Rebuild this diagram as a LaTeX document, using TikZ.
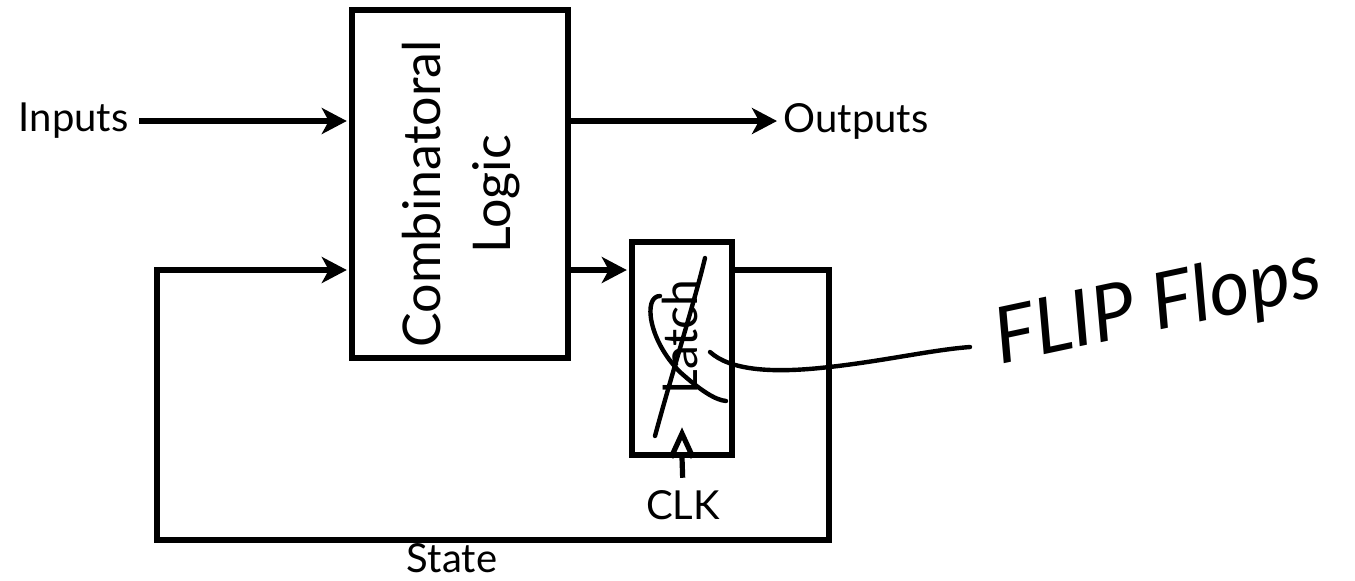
\documentclass[tikz,border=0pt]{standalone}
\usepackage{fontspec}
\setmainfont{Lato}
\usetikzlibrary{arrows.meta,positioning}
\begin{document}
\begin{tikzpicture}[x=0.5pt,y=-0.5pt,line width=2.6pt,
  block/.style={draw,line width=2.6pt,inner sep=0pt},
  arr/.style={-{Stealth[length=12.5pt,width=13pt,inset=3.5pt]}},
  lbl/.style={font=\fontsize{20}{24}\selectfont,inner sep=0pt},
  ink/.style={line width=2.2pt,line cap=round}]
  \useasboundingbox (0,0) rectangle (1355,580);
  \node[block,minimum width=108pt,minimum height=174pt] (comb) at (460,184) {};
  \node[rotate=90,align=center,font=\fontsize{26}{35}\selectfont] (combtxt) at (461,194) {Combinatoral\\Logic};
  \node[block,minimum width=50pt,minimum height=106.5pt] (latch) at (682,348.5) {};
  \node[rotate=90,inner sep=0pt,font=\fontsize{24}{24}\selectfont] (latchtxt) at (680,337) {Latch};
  \node[lbl,anchor=east] (inputs) at (131,121) {Inputs};
  \node[lbl,anchor=west] (outputs) at (781,121) {Outputs};
  \node[lbl] (clk) at (683,505) {CLK};
  \node[lbl,anchor=base] (state) at (452,572) {State};
  \node[rotate=12,inner sep=0pt,font=\fontsize{39}{39}\selectfont\itshape] (flip) at (1158,308) {FLIP Flops};
  \coordinate (mid) at (0,270);
  \coordinate (ne) at (829,270);
  \coordinate (se) at (829,540);
  \coordinate (sw) at (157,540);
  \coordinate (nw) at (157,270);
  \draw[arr,shorten <=4pt,shorten >=1.3pt] (inputs.east) -- (comb.west |- inputs.east);
  \draw[arr,shorten >=2pt] (comb.east |- outputs.west) -- (outputs.west);
  \draw[arr,shorten >=1.3pt] (comb.east |- mid) -- (latch.west |- mid);
  \draw[arr,shorten >=1.3pt] (latch.east |- mid) -- (ne) -- (se) -- (sw) -- (nw) -- (comb.west |- mid);
  \draw[shorten <=5pt] (clk.north) -- (latch.south);
  \draw (latch.south) ++(-11,0) -- ++(11,-24) -- ++(11,24);
  \draw[ink] (655,436) .. controls (670,380) and (695,300) .. (705,258);
  \draw[ink] (660,296) .. controls (643,296) and (648,340) .. (680,372)
    .. controls (700,390) and (715,400) .. (726,401);
  \coordinate (lead) at (970,347);
  \draw[ink] (710,352) .. controls (730,370) and (770,373) .. (820,368)
    .. controls (880,362) and (930,350) .. (lead);
\end{tikzpicture}
\end{document}
